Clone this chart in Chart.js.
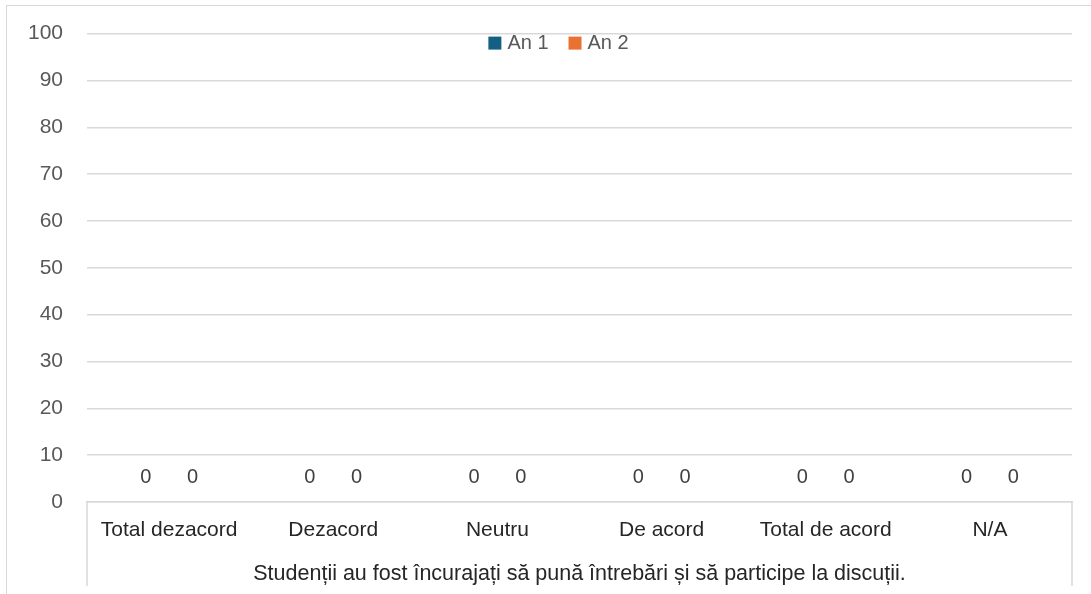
<!DOCTYPE html>
<html>
<head>
<meta charset="utf-8">
<script src="https://cdn.jsdelivr.net/npm/chart.js@4.4.1/dist/chart.umd.min.js"></script>
<style>
    html, body { margin: 0; padding: 0; background: #fff; overflow: hidden; }
    #frame { position: absolute; left: 6px; top: 5px; width: 1200px; height: 700px; border: 1px solid #d9d9d9; }
    #wrap { position: absolute; left: 0; top: -3px; width: 1091px; height: 597px; }
</style>
</head>
<body>
<div id="frame"></div>
<div id="wrap"><canvas id="chart"></canvas></div>
<script>
const categories = ['Total dezacord', 'Dezacord', 'Neutru', 'De acord', 'Total de acord', 'N/A'];
const groupLabel = 'Studenții au fost încurajați să pună întrebări și să participe la discuții.';
const an1Values = [0, 0, 0, 0, 0, 0];
const an2Values = [0, 0, 0, 0, 0, 0];
const seriesNames = ['An 1', 'An 2'];
const yTicks = [0, 10, 20, 30, 40, 50, 60, 70, 80, 90, 100];

const FONT = '"Liberation Sans", Arial, sans-serif';

// value labels above each bar
const valueLabels = {
    id: 'valueLabels',
    afterDatasetsDraw(chart) {
        const ctx = chart.ctx;
        ctx.save();
        ctx.font = '20px ' + FONT;
        ctx.fillStyle = '#404040';
        ctx.textAlign = 'center';
        ctx.textBaseline = 'middle';
        chart.data.datasets.forEach((ds, i) => {
            chart.getDatasetMeta(i).data.forEach((bar, j) => {
                ctx.fillText(String(ds.data[j]), bar.x, bar.y - 25);
            });
        });
        ctx.restore();
    }
};

// legend drawn inside the plot, just under the top gridline
const innerLegend = {
    id: 'innerLegend',
    afterDraw(chart) {
        const ctx = chart.ctx;
        const a = chart.chartArea;
        ctx.save();
        ctx.font = '20px ' + FONT;
        ctx.textBaseline = 'middle';
        const box = 13, gap = 6, itemGap = 20;
        const items = chart.data.datasets.map(ds => ({ text: ds.label, color: ds.backgroundColor, w: ctx.measureText(ds.label).width }));
        let total = items.reduce((s, it) => s + box + gap + it.w, 0) + itemGap * (items.length - 1);
        let x = (a.left + a.right) / 2 - 21 - total / 2;
        const y = a.top + 9.5;
        items.forEach(it => {
            ctx.fillStyle = it.color;
            ctx.fillRect(x, y - box / 2, box, box);
            ctx.fillStyle = '#595959';
            ctx.fillText(it.text, x + box + gap, y);
            x += box + gap + it.w + itemGap;
        });
        ctx.restore();
    }
};

// the two outer lines of the multi-level category axis
const groupLines = {
    id: 'groupLines',
    afterDraw(chart) {
        const a = chart.chartArea;
        const ctx = chart.ctx;
        ctx.save();
        ctx.strokeStyle = '#d9d9d9';
        ctx.lineWidth = 1.5;
        ctx.beginPath();
        ctx.moveTo(a.left, a.bottom);
        ctx.lineTo(a.left, a.bottom + 84);
        ctx.moveTo(a.right, a.bottom);
        ctx.lineTo(a.right, a.bottom + 84);
        ctx.stroke();
        ctx.restore();
    }
};

new Chart(document.getElementById('chart'), {
    type: 'bar',
    data: {
        labels: categories,
        datasets: [
            { label: seriesNames[0], data: an1Values, backgroundColor: '#156082', xAxisID: 'x', categoryPercentage: 0.57, barPercentage: 0.9 },
            { label: seriesNames[1], data: an2Values, backgroundColor: '#e97132', xAxisID: 'x', categoryPercentage: 0.57, barPercentage: 0.9 }
        ]
    },
    options: {
        responsive: true,
        maintainAspectRatio: false,
        animation: false,
        layout: { padding: { left: 4, right: 19, top: 22, bottom: 6 } },
        plugins: {
            legend: { display: false },
            tooltip: { enabled: false }
        },
        scales: {
            y: {
                min: 0,
                max: 100,
                afterBuildTicks: axis => { axis.ticks = yTicks.map(v => ({ value: v })); },
                grid: { color: '#d9d9d9', lineWidth: 1.5, drawTicks: false },
                border: { display: false },
                ticks: {
                    padding: 24,
                    color: '#595959',
                    font: { family: FONT, size: 21 }
                }
            },
            x: {
                grid: { display: false, drawTicks: false },
                border: { display: true, color: '#d9d9d9', width: 1.5 },
                ticks: {
                    padding: 16,
                    maxRotation: 0,
                    color: '#262626',
                    font: { family: FONT, size: 21 }
                }
            },
            x2: {
                type: 'category',
                position: 'bottom',
                labels: [groupLabel],
                grid: { display: false, drawTicks: false },
                border: { display: false },
                ticks: {
                    padding: 1.5,
                    maxRotation: 0,
                    color: '#262626',
                    font: { family: FONT, size: 21.5 }
                }
            }
        }
    },
    plugins: [valueLabels, innerLegend, groupLines]
});
</script>
</body>
</html>
